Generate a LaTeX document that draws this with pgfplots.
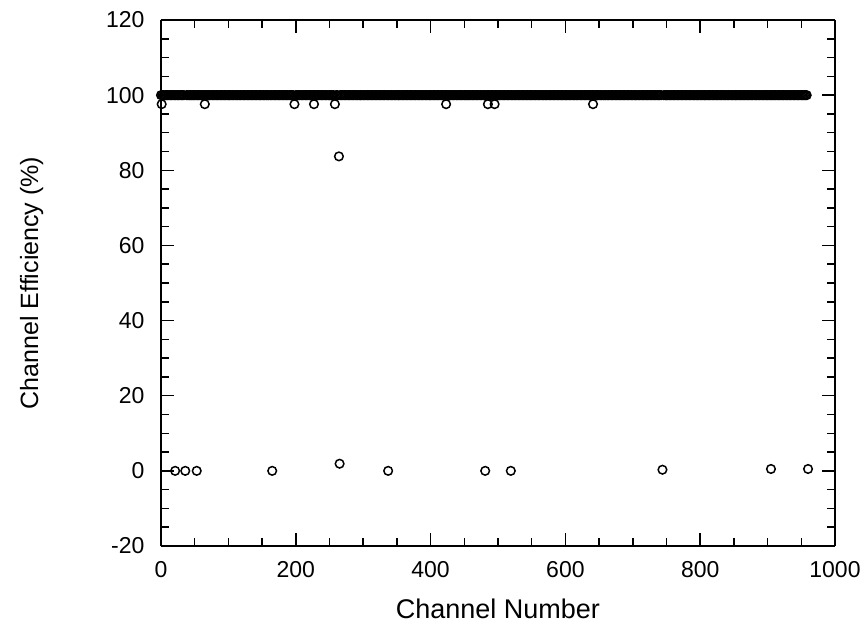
\documentclass[border=0pt]{standalone}
\usepackage{fontspec}
\setmainfont{Liberation Sans}
\usepackage{pgfplots}
\pgfplotsset{compat=1.18}
\begin{document}
\begin{tikzpicture}
\begin{axis}[
    scale only axis,
    width=674pt, height=526pt,
    xmin=0, xmax=1000, ymin=-20, ymax=120,
    xtick={0,200,...,1000},
    ytick={-20,0,...,120},
    minor tick num=3,
    tick align=inside,
    major tick length=13pt,
    minor tick length=8pt,
    separate axis lines,
    axis line style={line width=2pt},
    every tick/.style={black, line width=1.5pt},
    /pgf/number format/1000 sep={},
    /pgf/number format/assume math mode=true,
    tick label style={font=\fontsize{23}{27}\selectfont},
    xticklabel style={yshift=-12pt},
    yticklabel style={xshift=-13pt},
    xlabel style={font=\fontsize{27}{32}\selectfont},
    ylabel style={font=\fontsize{25}{30}\selectfont},
    xlabel shift=14pt,
    ylabel shift=56pt,
    xlabel={Channel Number},
    ylabel={Channel Efficiency (\%)},
    clip=false,
]
\coordinate (sw) at (rel axis cs:0,0);
% channels a little below 100
\addplot[only marks, mark=o, mark size=4.3pt, black, mark options={line width=1.5pt}] coordinates {
(1,97.6)(65,97.6)(198,97.6)(227,97.6)(258,97.6)(423,97.6)(485,97.6)(495,97.6)(641,97.6)
(264,83.7)
};
% dead channels
\addplot[only marks, mark=o, mark size=4.3pt, black, mark options={line width=1.5pt}] coordinates {
(21,0)(36,0)(53,0)(165,0)(265,1.9)(337,0)(481,0)(519,0)(744,0.3)(905,0.5)(960,0.5)
};
% the working channels
\addplot[only marks, mark=o, mark size=4.3pt, black, mark options={line width=1.5pt}] coordinates {
(0,100)(2,100)(4,100)(6,100)(8,100)(10,100)(12,100)(14,100)(16,100)(18,100)
(20,100)(22,100)(24,100)(26,100)(28,100)(30,100)(32,100)(34,100)(38,100)
(40,100)(42,100)(44,100)(46,100)(48,100)(50,100)(52,100)(54,100)(56,100)(58,100)
(60,100)(62,100)(64,100)(66,100)(68,100)(70,100)(72,100)(74,100)(76,100)(78,100)
(80,100)(82,100)(84,100)(86,100)(88,100)(90,100)(92,100)(94,100)(96,100)(98,100)
(100,100)(102,100)(104,100)(106,100)(108,100)(110,100)(112,100)(114,100)(116,100)(118,100)
(120,100)(122,100)(124,100)(126,100)(128,100)(130,100)(132,100)(134,100)(136,100)(138,100)
(140,100)(142,100)(144,100)(146,100)(148,100)(150,100)(152,100)(154,100)(156,100)(158,100)
(160,100)(162,100)(164,100)(166,100)(168,100)(170,100)(172,100)(174,100)(176,100)(178,100)
(180,100)(182,100)(184,100)(186,100)(188,100)(190,100)(192,100)(194,100)(196,100)
(200,100)(202,100)(204,100)(206,100)(208,100)(210,100)(212,100)(214,100)(216,100)(218,100)
(220,100)(222,100)(224,100)(226,100)(228,100)(230,100)(232,100)(234,100)(236,100)(238,100)
(240,100)(242,100)(244,100)(246,100)(248,100)(250,100)(252,100)(254,100)(256,100)
(260,100)(262,100)(266,100)(268,100)(270,100)(272,100)(274,100)(276,100)(278,100)
(280,100)(282,100)(284,100)(286,100)(288,100)(290,100)(292,100)(294,100)(296,100)(298,100)
(300,100)(302,100)(304,100)(306,100)(308,100)(310,100)(312,100)(314,100)(316,100)(318,100)
(320,100)(322,100)(324,100)(326,100)(328,100)(330,100)(332,100)(334,100)(336,100)(338,100)
(340,100)(342,100)(344,100)(346,100)(348,100)(350,100)(352,100)(354,100)(356,100)(358,100)
(360,100)(362,100)(364,100)(366,100)(368,100)(370,100)(372,100)(374,100)(376,100)(378,100)
(380,100)(382,100)(384,100)(386,100)(388,100)(390,100)(392,100)(394,100)(396,100)(398,100)
(400,100)(402,100)(404,100)(406,100)(408,100)(410,100)(412,100)(414,100)(416,100)(418,100)
(420,100)(422,100)(424,100)(426,100)(428,100)(430,100)(432,100)(434,100)(436,100)(438,100)
(440,100)(442,100)(444,100)(446,100)(448,100)(450,100)(452,100)(454,100)(456,100)(458,100)
(460,100)(462,100)(464,100)(466,100)(468,100)(470,100)(472,100)(474,100)(476,100)(478,100)
(480,100)(482,100)(484,100)(486,100)(488,100)(490,100)(492,100)(494,100)(496,100)(498,100)
(500,100)(502,100)(504,100)(506,100)(508,100)(510,100)(512,100)(514,100)(516,100)(518,100)
(520,100)(522,100)(524,100)(526,100)(528,100)(530,100)(532,100)(534,100)(536,100)(538,100)
(540,100)(542,100)(544,100)(546,100)(548,100)(550,100)(552,100)(554,100)(556,100)(558,100)
(560,100)(562,100)(564,100)(566,100)(568,100)(570,100)(572,100)(574,100)(576,100)(578,100)
(580,100)(582,100)(584,100)(586,100)(588,100)(590,100)(592,100)(594,100)(596,100)(598,100)
(600,100)(602,100)(604,100)(606,100)(608,100)(610,100)(612,100)(614,100)(616,100)(618,100)
(620,100)(622,100)(624,100)(626,100)(628,100)(630,100)(632,100)(634,100)(636,100)(638,100)
(640,100)(642,100)(644,100)(646,100)(648,100)(650,100)(652,100)(654,100)(656,100)(658,100)
(660,100)(662,100)(664,100)(666,100)(668,100)(670,100)(672,100)(674,100)(676,100)(678,100)
(680,100)(682,100)(684,100)(686,100)(688,100)(690,100)(692,100)(694,100)(696,100)(698,100)
(700,100)(702,100)(704,100)(706,100)(708,100)(710,100)(712,100)(714,100)(716,100)(718,100)
(720,100)(722,100)(724,100)(726,100)(728,100)(730,100)(732,100)(734,100)(736,100)(738,100)
(740,100)(742,100)(746,100)(748,100)(750,100)(752,100)(754,100)(756,100)(758,100)
(760,100)(762,100)(764,100)(766,100)(768,100)(770,100)(772,100)(774,100)(776,100)(778,100)
(780,100)(782,100)(784,100)(786,100)(788,100)(790,100)(792,100)(794,100)(796,100)(798,100)
(800,100)(802,100)(804,100)(806,100)(808,100)(810,100)(812,100)(814,100)(816,100)(818,100)
(820,100)(822,100)(824,100)(826,100)(828,100)(830,100)(832,100)(834,100)(836,100)(838,100)
(840,100)(842,100)(844,100)(846,100)(848,100)(850,100)(852,100)(854,100)(856,100)(858,100)
(860,100)(862,100)(864,100)(866,100)(868,100)(870,100)(872,100)(874,100)(876,100)(878,100)
(880,100)(882,100)(884,100)(886,100)(888,100)(890,100)(892,100)(894,100)(896,100)(898,100)
(900,100)(902,100)(904,100)(906,100)(908,100)(910,100)(912,100)(914,100)(916,100)(918,100)
(920,100)(922,100)(924,100)(926,100)(928,100)(930,100)(932,100)(934,100)(936,100)(938,100)
(940,100)(942,100)(944,100)(946,100)(948,100)(950,100)(952,100)(954,100)(956,100)(958,100)
};
\end{axis}
\pgfresetboundingbox
\path[use as bounding box] (sw) ++(-161pt,-81pt) rectangle ++(868pt,627pt);
\end{tikzpicture}
\end{document}
